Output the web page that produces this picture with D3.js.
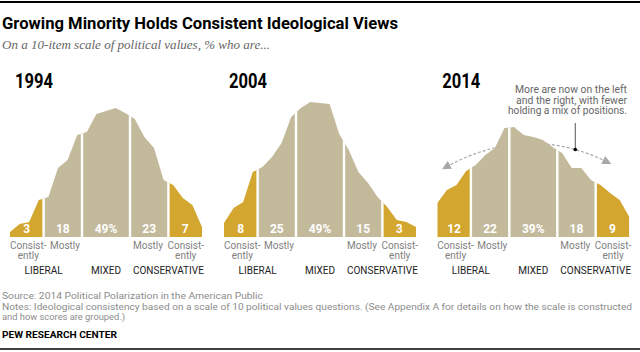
<!DOCTYPE html>
<html>
<head>
<meta charset="utf-8">
<script src="https://cdn.jsdelivr.net/npm/d3@7"></script>
<style>
  body { margin: 0; background: #fff; }
  text { font-family: Roboto, "Liberation Sans", sans-serif; }
</style>
</head>
<body>
<div id="chart-area"></div>
<script>
// ideology scale points, -10 (consistently liberal) .. +10 (consistently conservative)
const scalePoints = [-10, -9, -8, -7, -6, -5, -4, -3, -2, -1, 0, 1, 2, 3, 4, 5, 6, 7, 8, 9, 10];

// curve heights (relative units)
const heights1994 = [5, 13, 15, 37, 40, 69, 77, 102, 105, 123, 126, 129, 124, 118, 100, 89, 57, 52, 39, 32, 10];
const heights2004 = [14, 29, 35, 65, 70, 80, 94, 120, 129, 135, 134, 133, 103, 87, 65, 54, 40, 30, 17, 15, 10];
const heights2014 = [34, 47, 52, 66, 72, 82, 89, 109, 110, 102, 100, 97, 90, 84, 69, 69, 57, 52, 44, 37, 20];

const years = ["1994", "2004", "2014"];

// groups along the scale
const groupBounds = [[-10, -7], [-6, -3], [-2, 2], [3, 6], [7, 10]];
const groupLabels = ["Consist-|ently", "Mostly", "", "Mostly", "Consist-|ently"];
const sideLabels = ["LIBERAL", "MIXED", "CONSERVATIVE"];
const sideCenters = [-6.5, 0, 6.5];

// % in each group
const shares1994 = [3, 18, 49, 23, 7];
const shares2004 = [8, 25, 49, 15, 3];
const shares2014 = [12, 22, 39, 18, 9];

const allHeights = [heights1994, heights2004, heights2014];
const allShares = [shares1994, shares2004, shares2014];

const gold = "#d3a62f";
const tan = "#c3b99b";
const groupColors = [gold, tan, tan, tan, gold];

const width = 640, height = 352;
const panelLeft = [10, 224, 437.3];
const panelWidth = 192;

let svg = d3.select("#chart-area")
  .append("svg")
  .attr("width", width)
  .attr("height", height);

let defs = svg.append("defs");
defs.append("marker")
  .attr("id", "arrow")
  .attr("viewBox", "0 0 10 10")
  .attr("refX", 5).attr("refY", 5)
  .attr("markerWidth", 9).attr("markerHeight", 9)
  .attr("markerUnits", "userSpaceOnUse")
  .attr("orient", "auto-start-reverse")
  .append("path")
  .attr("d", "M0,0 L10,5 L0,10 z")
  .attr("fill", "#a8a8a8");

// top and bottom rules
svg.append("line").attr("x1", 0).attr("x2", width).attr("y1", 2).attr("y2", 2)
  .attr("stroke", "#000").attr("stroke-width", 2);
svg.append("line").attr("x1", 0).attr("x2", width).attr("y1", 349).attr("y2", 349)
  .attr("stroke", "#000").attr("stroke-width", 1.5);

// title + subtitle
svg.append("text")
  .attr("x", 2).attr("y", 29)
  .attr("font-size", 17).attr("font-weight", "bold")
  .attr("textLength", 396).attr("lengthAdjust", "spacingAndGlyphs")
  .attr("fill", "#000")
  .text("Growing Minority Holds Consistent Ideological Views");

svg.append("text")
  .attr("x", 2).attr("y", 49)
  .attr("font-size", 13).attr("font-style", "italic")
  .style("font-family", "'Liberation Serif', 'DejaVu Serif', serif")
  .attr("textLength", 268).attr("lengthAdjust", "spacingAndGlyphs")
  .attr("fill", "#666")
  .text("On a 10-item scale of political values, % who are...");

let y = d3.scaleLinear().domain([0, 130]).range([237, 107]);

years.forEach(function(year, p) {
  let x = d3.scaleLinear()
    .domain([-10, 10])
    .range([panelLeft[p], panelLeft[p] + panelWidth]);

  let heights = allHeights[p];
  let shares = allShares[p];
  let g = svg.append("g");

  let segLeft = function(b) { return x(Math.max(-10, b[0] - 0.5)); };
  let segRight = function(b) { return x(Math.min(10, b[1] + 0.5)); };

  // year label
  g.append("text")
    .attr("x", x(-10) + 5).attr("y", 88)
    .attr("font-size", 21).attr("font-weight", "bold")
    .attr("textLength", 38).attr("lengthAdjust", "spacingAndGlyphs")
    .attr("fill", "#000")
    .text(year);

  // 2014 annotation: dashed arc drawn behind the area
  if (year === "2014") {
    let p0 = [x(-9.1), y(70)], c = [x(-0.6), y(114.5)], p2 = [x(7.7), y(75)];
    g.append("path")
      .attr("d", "M" + p0 + " Q" + c + " " + p2)
      .attr("fill", "none")
      .attr("stroke", "#a8a8a8")
      .attr("stroke-width", 1.2)
      .attr("stroke-dasharray", "3,2")
      .attr("marker-start", "url(#arrow)")
      .attr("marker-end", "url(#arrow)");

    let t = 0.8;
    let dot = [
      (1 - t) * (1 - t) * p0[0] + 2 * t * (1 - t) * c[0] + t * t * p2[0],
      (1 - t) * (1 - t) * p0[1] + 2 * t * (1 - t) * c[1] + t * t * p2[1]
    ];
    g.append("line")
      .attr("x1", dot[0]).attr("x2", dot[0])
      .attr("y1", 123).attr("y2", dot[1])
      .attr("stroke", "#555").attr("stroke-width", 1);
    g.append("circle")
      .attr("cx", dot[0]).attr("cy", dot[1]).attr("r", 1.8)
      .attr("fill", "#000");

    let note = ["More are now on the left", "and the right, with fewer", "holding a mix of positions."];
    let noteLen = [112, 111, 119];
    note.forEach(function(line, i) {
      g.append("text")
        .attr("x", 627).attr("y", 93 + i * 10.5)
        .attr("text-anchor", "end")
        .attr("font-size", 10)
        .attr("textLength", noteLen[i]).attr("lengthAdjust", "spacingAndGlyphs")
        .attr("fill", "#666")
        .text(line);
    });
  }

  let area = d3.area()
    .x(function(d, i) { return x(scalePoints[i]); })
    .y0(y(0))
    .y1(function(d) { return y(d); });

  let clipId = "clip-" + year;
  defs.append("clipPath")
    .attr("id", clipId)
    .append("path")
    .attr("d", area(heights));

  let body = g.append("g").attr("clip-path", "url(#" + clipId + ")");

  body.selectAll("rect")
    .data(groupBounds)
    .enter()
    .append("rect")
    .attr("x", segLeft)
    .attr("width", function(d) { return segRight(d) - segLeft(d); })
    .attr("y", y(135))
    .attr("height", y(0) - y(135))
    .attr("fill", function(d, i) { return groupColors[i]; });

  body.selectAll("line")
    .data(groupBounds.slice(1))
    .enter()
    .append("line")
    .attr("x1", segLeft)
    .attr("x2", segLeft)
    .attr("y1", y(0)).attr("y2", y(135))
    .attr("stroke", "#fff").attr("stroke-width", 2.4);

  // share labels inside the area
  g.selectAll("text.share")
    .data(shares)
    .enter()
    .append("text")
    .attr("class", "share")
    .attr("x", function(d, i) { return (segLeft(groupBounds[i]) + segRight(groupBounds[i])) / 2; })
    .attr("y", 232.5)
    .attr("text-anchor", "middle")
    .attr("font-size", 12).attr("font-weight", "bold")
    .attr("fill", "#fff")
    .text(function(d, i) { return i === 2 ? d + "%" : d; });

  // group labels below: outer ones hug the panel edges, inner ones hug the mixed block
  let labelAnchor = ["start", "end", null, "start", "end"];
  groupLabels.forEach(function(lbl, i) {
    if (!lbl) return;
    let b = groupBounds[i];
    let parts = lbl.split("|");
    let lx;
    if (i === 0) lx = segLeft(b);
    else if (i === 1) lx = segRight(b) - 2;
    else if (i === 3) lx = segLeft(b) + 3;
    else lx = segRight(b) + 2;

    let first = g.append("text")
      .attr("x", lx).attr("y", 249)
      .attr("text-anchor", labelAnchor[i])
      .attr("font-size", 10)
      .attr("fill", "#7f7f7f")
      .text(parts[0]);

    if (parts.length > 1) {
      let w = first.node().getComputedTextLength();
      let mid = labelAnchor[i] === "start" ? lx + w / 2 : lx - w / 2;
      g.append("text")
        .attr("x", mid).attr("y", 258.5)
        .attr("text-anchor", "middle")
        .attr("font-size", 10)
        .attr("fill", "#7f7f7f")
        .text(parts[1]);
    }
  });

  sideLabels.forEach(function(lbl, i) {
    g.append("text")
      .attr("x", x(sideCenters[i])).attr("y", 274)
      .attr("text-anchor", "middle")
      .attr("font-size", 10)
      .attr("fill", "#222")
      .text(lbl);
  });
});

// footer
let foot = [
  ["Source: 2014 Political Polarization in the American Public", 299, 261],
  ["Notes: Ideological consistency based on a scale of 10 political values questions. (See Appendix A for details on how the scale is constructed", 309.5, 630],
  ["and how scores are grouped.)", 320, 123]
];
foot.forEach(function(f) {
  svg.append("text")
    .attr("x", 2).attr("y", f[1])
    .attr("font-size", 9)
    .attr("textLength", f[2]).attr("lengthAdjust", "spacingAndGlyphs")
    .attr("fill", "#8c8c8c")
    .text(f[0]);
});

svg.append("text")
  .attr("x", 2).attr("y", 338)
  .attr("font-size", 9.5).attr("font-weight", "bold")
  .attr("textLength", 115).attr("lengthAdjust", "spacingAndGlyphs")
  .attr("fill", "#000")
  .text("PEW RESEARCH CENTER");
</script>
</body>
</html>
